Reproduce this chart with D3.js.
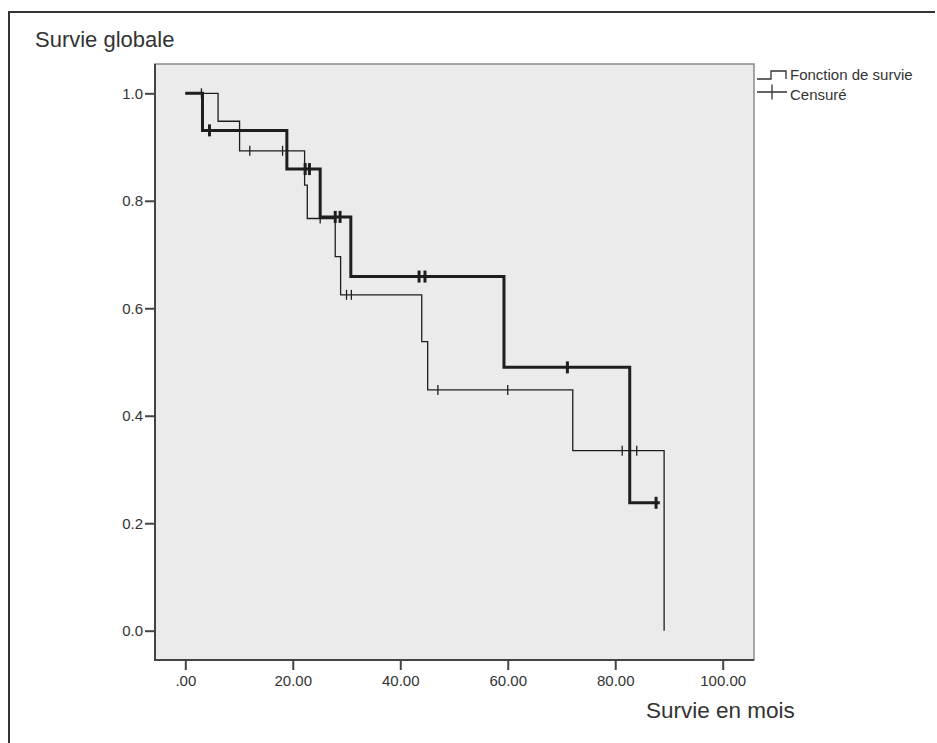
<!DOCTYPE html>
<html>
<head>
<meta charset="utf-8">
<script src="https://cdn.jsdelivr.net/npm/d3@7"></script>
<style>
  body { margin: 0; background: #fff; }
  svg { display: block; font-family: "Liberation Sans", Arial, sans-serif; }
</style>
</head>
<body>
<div id="chart"></div>
<script>
// Kaplan-Meier steps, group 1 (thick line)
const thickTimes = [0, 3.2, 18.9, 25.1, 30.8, 59.3, 82.7];
const thickSurv = [1.0, 0.931, 0.859, 0.770, 0.659, 0.490, 0.238];
const thickEnd = 88.3;
const thickCensored = [4.5, 22.3, 23.1, 27.9, 28.8, 43.5, 44.6, 71.1, 87.6];

// group 2 (thin line)
const thinTimes = [0, 6.1, 10.1, 22.2, 22.7, 27.9, 28.9, 44.0, 45.1, 72.1, 89.1];
const thinSurv = [1.0, 0.948, 0.893, 0.829, 0.767, 0.696, 0.625, 0.538, 0.448, 0.335, 0.0];
const thinEnd = 89.1;
const thinCensored = [3.0, 12.0, 18.1, 25.1, 30.0, 30.9, 47.0, 60.0, 81.3, 84.0];

const xTicks = [0, 20, 40, 60, 80, 100];
const yTicks = [0, 0.2, 0.4, 0.6, 0.8, 1.0];
const legendLabels = ['Fonction de survie', 'Censuré'];

const width = 937, height = 743;
const plot = { left: 155, top: 64, right: 754, bottom: 660 };

const svg = d3.select('#chart').append('svg')
    .attr('width', width)
    .attr('height', height);

// outer frame (top + left only, like the scan)
svg.append('path')
    .attr('d', `M9,${height} V12 H935`)
    .attr('fill', 'none')
    .attr('stroke', '#333')
    .attr('stroke-width', 2);

const x = d3.scaleLinear().domain([0, 100]).range([185.3, 722.7]);
const y = d3.scaleLinear().domain([0, 1]).range([630.7, 93.3]);

// plot area
svg.append('rect')
    .attr('x', plot.left).attr('y', plot.top)
    .attr('width', plot.right - plot.left)
    .attr('height', plot.bottom - plot.top)
    .attr('fill', '#ebebeb')
    .attr('stroke', '#8a8a8a')
    .attr('stroke-width', 1.5);

svg.append('path')
    .attr('d', `M${plot.left},${plot.top} V${plot.bottom} H${plot.right}`)
    .attr('fill', 'none')
    .attr('stroke', '#444')
    .attr('stroke-width', 2);

// axes
const yAxis = svg.append('g')
    .attr('transform', `translate(${plot.left},0)`)
    .call(d3.axisLeft(y).tickValues(yTicks).tickSize(10).tickPadding(2)
        .tickFormat(d3.format('.1f')));

const xAxis = svg.append('g')
    .attr('transform', `translate(0,${plot.bottom})`)
    .call(d3.axisBottom(x).tickValues(xTicks).tickSize(10).tickPadding(5)
        .tickFormat(d => d === 0 ? '.00' : d.toFixed(2)));

[xAxis, yAxis].forEach(g => {
    g.select('.domain').remove();
    g.selectAll('.tick line').attr('stroke', '#444').attr('stroke-width', 2);
    g.selectAll('.tick text')
        .attr('fill', '#333')
        .style('font-size', '15px')
        .style('font-family', '"Liberation Sans", Arial, sans-serif');
});

// titles
svg.append('text')
    .attr('x', 35).attr('y', 47)
    .attr('fill', '#333')
    .style('font-size', '22px')
    .text('Survie globale');

svg.append('text')
    .attr('x', 646).attr('y', 718)
    .attr('fill', '#333')
    .style('font-size', '22.5px')
    .text('Survie en mois');

// step path builder
function stepPath(times, surv, end) {
    const pts = times.map((t, i) => [t, surv[i]]);
    pts.push([end, surv[surv.length - 1]]);
    return d3.line()
        .x(d => x(d[0]))
        .y(d => y(d[1]))
        .curve(d3.curveStepAfter)(pts);
}

function survAt(times, surv, t) {
    const i = d3.bisectRight(times, t) - 1;
    return surv[Math.max(0, i)];
}

function drawCurve(times, surv, end, censored, lw, half) {
    const g = svg.append('g');
    g.append('path')
        .attr('d', stepPath(times, surv, end))
        .attr('fill', 'none')
        .attr('stroke', '#1e1e1e')
        .attr('stroke-width', lw);
    g.selectAll('line.censor')
        .data(censored)
        .enter().append('line')
        .attr('class', 'censor')
        .attr('x1', d => x(d)).attr('x2', d => x(d))
        .attr('y1', d => y(survAt(times, surv, d)) - half)
        .attr('y2', d => y(survAt(times, surv, d)) + half)
        .attr('stroke', '#1e1e1e')
        .attr('stroke-width', lw);
}

drawCurve(thinTimes, thinSurv, thinEnd, thinCensored, 1.3, 5);
drawCurve(thickTimes, thickSurv, thickEnd, thickCensored, 3, 6);

// legend
const lg = svg.append('g').attr('fill', 'none').attr('stroke', '#333').attr('stroke-width', 1.3);
lg.append('path').attr('d', 'M757,79 H771 V71 H786 V79');
lg.append('path').attr('d', 'M757,92 H787 M772,84.5 V99.5');

svg.selectAll('text.legend')
    .data(legendLabels)
    .enter().append('text')
    .attr('class', 'legend')
    .attr('x', 790)
    .attr('y', (d, i) => 80 + i * 20)
    .attr('fill', '#333')
    .style('font-size', '15px')
    .text(d => d);
</script>
</body>
</html>
